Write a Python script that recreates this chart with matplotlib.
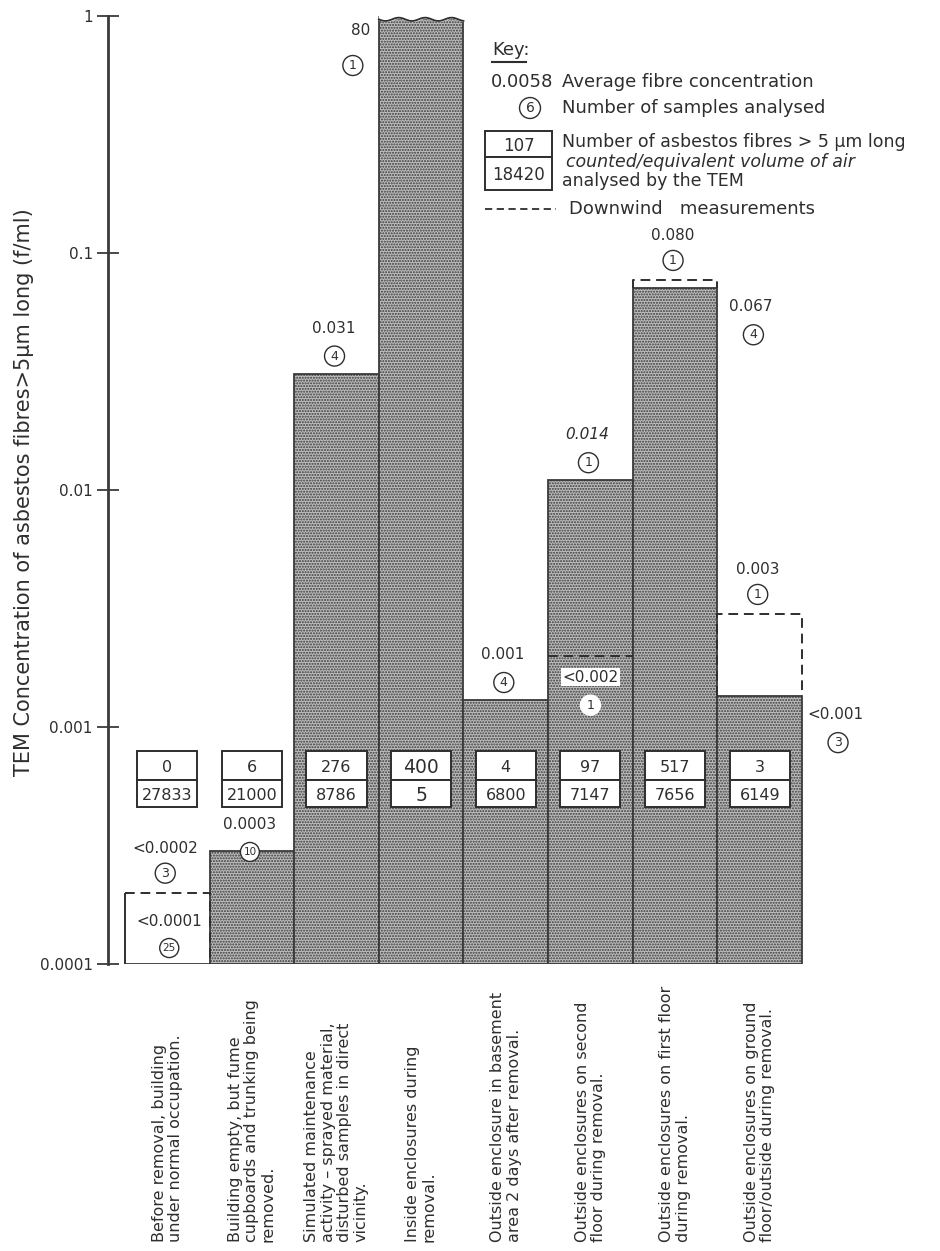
import numpy as np
import matplotlib
matplotlib.use('Agg')
import matplotlib.pyplot as plt
from matplotlib.patches import Rectangle
from matplotlib.lines import Line2D
from matplotlib.transforms import blended_transform_factory

plt.rcParams['font.family'] = ['DejaVu Sans']
plt.rcParams['hatch.linewidth'] = 1.0

# ---- data ----
categories = [
    'Before removal, building\nunder normal occupation.',
    'Building empty, but fume\ncupboards and trunking being\nremoved.',
    'Simulated maintenance\nactivity \u2013 sprayed material,\ndisturbed samples in direct\nvicinity.',
    'Inside enclosures during\nremoval.',
    'Outside enclosure in basement\narea 2 days after removal.',
    'Outside enclosures on second\nfloor during removal.',
    'Outside enclosures on first floor\nduring removal.',
    'Outside enclosures on ground\nfloor/outside during removal.',
]
conc = [1e-4, 3e-4, 3.1e-2, 80, 1.3e-3, 1.1e-2, 7.1e-2, 1.35e-3]
conc_label = ['<0.0001', '0.0003', '0.031', '80', '0.001', '0.014', '0.067', '<0.001']
samples = [25, 10, 4, 1, 4, 1, 4, 3]
fibres = [0, 6, 276, 400, 4, 97, 517, 3]
volume = [27833, 21000, 8786, 5, 6800, 7147, 7656, 6149]

# downwind measurements
dw_bar = [0, 5, 6, 7]
dw_conc = [2e-4, 2e-3, 7.7e-2, 3e-3]
dw_label = ['<0.0002', '<0.002', '0.080', '0.003']
dw_samples = [3, 1, 1, 1]

yticks = [1e-4, 1e-3, 1e-2, 1e-1, 1]
ytick_labels = ['0.0001', '0.001', '0.01', '0.1', '1']

# where the average label sits relative to its bar
label_place = ['inside', 'edge', 'above', 'left', 'above', 'above', 'right', 'right']

ink = '#2e2e2e'
floor = 1e-4

fig = plt.figure(figsize=(9.4, 12.51), dpi=100)
ax = fig.add_axes([0.1149, 0.2294, 0.8851, 0.7578])
ax.set_yscale('log')
ax.set_ylim(floor, 1)
ax.set_xlim(-0.2, 9.63)

x = np.arange(len(conc))
heights = np.array(conc) - floor

# downwind bars drawn white underneath (only bar 1 shows it)
for i, c in zip(dw_bar, dw_conc):
    if conc[i] <= floor:
        ax.bar(i, c - floor, width=1, bottom=floor, align='edge', color='white',
               edgecolor='none', zorder=1)
        ax.vlines(i, floor, c, color=ink, lw=1.4, zorder=4)

bars = ax.bar(x, heights, width=1, bottom=floor, align='edge', color='#bdbdbd',
              edgecolor='#3a3a3a', lw=1.3, hatch='......', zorder=2)

# wavy top of the clipped bar
big = int(np.argmax(conc))
t = np.linspace(0, 1, 80)
wave = 10 ** (-(0.014 + 0.007 * np.sin(2 * np.pi * 3.2 * t)))
ax.fill_between(big + t, wave, 1, color='white', zorder=3)
ax.plot(big + t, wave, color=ink, lw=1.3, zorder=4)

# dashed downwind outlines
for i, c in zip(dw_bar, dw_conc):
    top = max(conc[i], floor)
    if c > top:
        left_y = top if conc[i] > floor else c
        ax.plot([i, i, i + 1, i + 1], [left_y, c, c, top], ls=(0, (5, 3)),
                color=ink, lw=1.4, zorder=4)
    else:
        ax.plot([i, i + 1], [c, c], ls=(0, (5, 3)), color=ink, lw=1.4, zorder=4)

txt_kw = dict(textcoords='offset pixels', ha='center', va='center_baseline',
              color=ink, zorder=6)


def circled(n, xy, dx, dy, fc='white', ec=ink):
    ax.annotate(str(n), xy, xytext=(dx, dy), fontsize=9 if n < 10 else 7.5,
                bbox=dict(boxstyle='circle,pad=0.28', fc=fc, ec=ec, lw=1.0), **txt_kw)


for i in range(len(conc)):
    top = min(conc[i], 1)
    place = label_place[i]
    style = 'italic' if conc_label[i] == '0.014' else 'normal'
    if place == 'above':
        ax.annotate(conc_label[i], (i + 0.5, top), xytext=(-3, 47), fontsize=11,
                    style=style, **txt_kw)
        circled(samples[i], (i + 0.5, top), -2, 19)
    elif place == 'edge':
        ax.annotate(conc_label[i], (i + 0.5, top), xytext=(-2, 28), fontsize=11, **txt_kw)
        circled(samples[i], (i + 0.5, top), -2, 0)
    elif place == 'inside':
        ax.annotate(conc_label[i], (i + 0.5, floor), xytext=(2, 44), fontsize=11, **txt_kw)
        circled(samples[i], (i + 0.5, floor), 2, 17)
    elif place == 'left':
        ax.annotate(conc_label[i], (i, top), xytext=(-18, -13), fontsize=11, **txt_kw)
        circled(samples[i], (i, top), -26, -48)
    elif place == 'right':
        ax.annotate(conc_label[i], (i + 1, top), xytext=(33, -17), fontsize=11, **txt_kw)
        circled(samples[i], (i + 1, top), 36, -45)

for i, c, lab, n in zip(dw_bar, dw_conc, dw_label, dw_samples):
    if c > max(conc[i], floor):
        ax.annotate(lab, (i + 0.5, c), xytext=(-2, 46), fontsize=11, **txt_kw)
        circled(n, (i + 0.5, c), -2, 21)
    else:
        ax.annotate(lab, (i + 0.5, c), xytext=(0, -20), fontsize=11,
                    bbox=dict(boxstyle='square,pad=0.1', fc='white', ec='none'), **txt_kw)
        circled(n, (i + 0.5, c), 0, -48, ec='white')

# fibres / volume boxes
bt = blended_transform_factory(ax.transData, ax.transAxes)
box_w = 0.71
y_bot, y_mid, y_top = 0.1656, 0.194, 0.2247
for i in range(len(conc)):
    x0 = i + 0.5 - box_w / 2
    for y0, y1, val in [(y_mid, y_top, fibres[i]), (y_bot, y_mid, volume[i])]:
        ax.add_patch(Rectangle((x0, y0), box_w, y1 - y0, transform=bt, fc='white',
                               ec=ink, lw=1.4, zorder=5))
        big_txt = conc[i] > 1
        ax.text(i + 0.5, (y0 + y1) / 2, str(val), transform=bt, ha='center',
                va='center_baseline', fontsize=13.5 if big_txt else 11.5,
                color=ink, zorder=6)

# axis styling
for s in ['top', 'right', 'bottom']:
    ax.spines[s].set_visible(False)
ax.spines['left'].set_linewidth(2)
ax.spines['left'].set_color('#3a3a3a')
ax.set_yticks(yticks)
ax.set_yticklabels(ytick_labels)
ax.yaxis.set_minor_locator(matplotlib.ticker.NullLocator())
ax.tick_params(axis='y', direction='inout', length=16, width=1.3, color='#3a3a3a',
               labelsize=11, labelcolor=ink, pad=3)
ax.set_xticks([])
ax.patch.set_visible(False)

# rotated category labels under each bar
bx = blended_transform_factory(ax.transData, fig.transFigure)
for i, lab in enumerate(categories):
    ax.text(i + 0.5, 0.007, lab, transform=bx, rotation=90, ha='center', va='bottom',
            multialignment='left', fontsize=11.5, linespacing=1.12, color=ink)

fig.text(24 / 940, 1 - 492 / 1251,
         'TEM Concentration of asbestos fibres>5\u03bcm long (f/ml)',
         rotation=90, ha='center', va='center', fontsize=15, color=ink)


# key
def px(xp, yp):
    return xp / 940, 1 - yp / 1251


kfs = 13
fig.text(*px(492, 50), 'Key:', fontsize=kfs, va='center', color=ink)
fig.add_artist(Line2D([492 / 940, 526 / 940], [1 - 62 / 1251] * 2, color=ink, lw=1.5))
fig.text(*px(553, 82), '0.0058', fontsize=kfs, ha='right', va='center', color=ink)
fig.text(*px(562, 82), 'Average fibre concentration', fontsize=kfs, va='center', color=ink)
fig.text(*px(530, 108), '6', fontsize=10, ha='center', va='center', color=ink,
         bbox=dict(boxstyle='circle,pad=0.25', fc='white', ec=ink, lw=1.0))
fig.text(*px(562, 108), 'Number of samples analysed', fontsize=kfs, va='center', color=ink)
for (y0, y1, val) in [(131, 157, '107'), (157, 190, '18420')]:
    fx0, fy1 = px(485, y0)
    fx1, fy0 = px(552, y1)
    fig.add_artist(Rectangle((fx0, fy0), fx1 - fx0, fy1 - fy0, transform=fig.transFigure,
                             fc='white', ec=ink, lw=1.4))
    fig.text((fx0 + fx1) / 2, (fy0 + fy1) / 2, val, fontsize=12, ha='center',
             va='center_baseline', color=ink)
fig.text(*px(562, 142), 'Number of asbestos fibres > 5 \u03bcm long', fontsize=12.5,
         va='center', color=ink)
fig.text(*px(566, 162), 'counted/equivalent volume of air', fontsize=12.5,
         style='italic', va='center', color=ink)
fig.text(*px(562, 181), 'analysed by the TEM', fontsize=12.5, va='center', color=ink)
fig.add_artist(Line2D([485 / 940, 556 / 940], [1 - 209 / 1251] * 2, color=ink, lw=1.3,
                      ls=(0, (4, 2.5))))
fig.text(*px(569, 209), 'Downwind   measurements', fontsize=kfs, va='center', color=ink)

fig.savefig('out.png', dpi=100)
